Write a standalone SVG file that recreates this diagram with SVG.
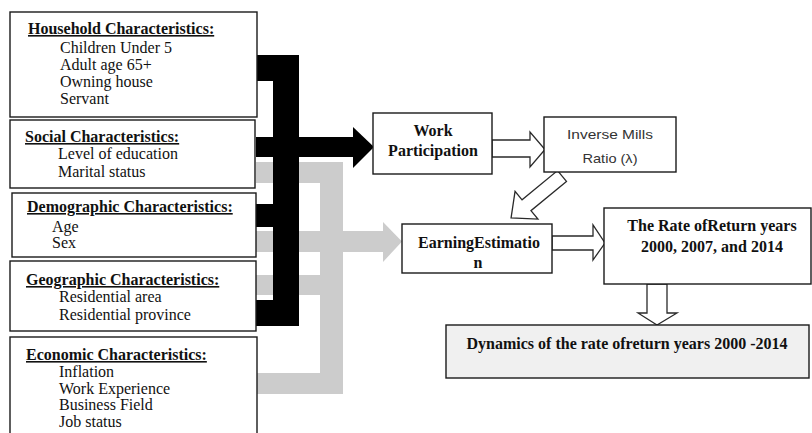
<svg xmlns="http://www.w3.org/2000/svg" width="812" height="433" viewBox="0 0 812 433">
  <style>
    .box { fill: #ffffff; stroke: #1a1a1a; stroke-width: 1.4; }
    .box-shade { fill: #f0f0f0; stroke: #1a1a1a; stroke-width: 1.4; }
    .hollow { fill: #ffffff; stroke: #2a2a2a; stroke-width: 1.3; stroke-linejoin: miter; }
    .bus-black { fill: #000000; }
    .bus-gray { fill: #cccccc; }
    .head { font-family: "Liberation Serif", "Times New Roman", serif; font-size: 16px; font-weight: bold; text-decoration: underline; fill: #111111; }
    .item { font-family: "Liberation Serif", "Times New Roman", serif; font-size: 16px; fill: #111111; }
    .title { font-family: "Liberation Serif", "Times New Roman", serif; font-size: 16px; font-weight: bold; fill: #111111; text-anchor: middle; }
    .sans { font-family: "Liberation Sans", Arial, sans-serif; font-size: 13px; fill: #333333; text-anchor: middle; }
  </style>

  <!-- Connectors: gray bus (earnings inputs) and black bus (participation inputs) -->
  <g id="connectors">
    <g id="gray-bus">
      <rect class="bus-gray" x="256" y="162" width="87" height="21"/>
      <rect class="bus-gray" x="320" y="162" width="23" height="232"/>
      <rect class="bus-gray" x="256" y="231" width="127" height="21"/>
      <polygon class="bus-gray" points="383,222 402,241.5 383,262"/>
      <rect class="bus-gray" x="256" y="275" width="64" height="20"/>
      <rect class="bus-gray" x="256" y="373" width="87" height="21"/>
    </g>
    <g id="black-bus">
      <rect class="bus-black" x="256" y="55" width="43" height="26"/>
      <rect class="bus-black" x="273" y="55" width="26" height="271"/>
      <rect class="bus-black" x="256" y="137" width="97" height="20"/>
      <polygon class="bus-black" points="353,127 374,147 353,168"/>
      <rect class="bus-black" x="256" y="204" width="43" height="23"/>
      <rect class="bus-black" x="256" y="300" width="43" height="26"/>
    </g>
    <!-- block arrows between the estimation steps -->
    <polygon class="hollow" points="492,140 530,140 530,132 545,149.5 530,167 530,157 492,157"/>
    <polygon class="hollow" transform="translate(562,176) rotate(140.5)" points="0,-7 46,-7 46,-18 66,0 46,18 46,7 0,7"/>
    <polygon class="hollow" points="552,236 593,236 593,225 605,243 593,260 593,250 552,250"/>
    <polygon class="hollow" points="647,284 667,284 667,313 677,313 657,325 638,313 647,313"/>
  </g>

  <!-- Input characteristic groups -->
  <g id="household">
    <rect class="box" x="10" y="12" width="247" height="105"/>
    <text class="head" x="28" y="34">Household Characteristics:</text>
    <text class="item" x="60" y="53">Children Under 5</text>
    <text class="item" x="60" y="70">Adult age 65+</text>
    <text class="item" x="60" y="87">Owning house</text>
    <text class="item" x="60" y="104">Servant</text>
  </g>

  <g id="social">
    <rect class="box" x="10" y="120" width="245" height="68"/>
    <text class="head" x="25" y="142">Social Characteristics:</text>
    <text class="item" x="58" y="159">Level of education</text>
    <text class="item" x="58" y="177">Marital status</text>
  </g>

  <g id="demographic">
    <rect class="box" x="12" y="193" width="244" height="64"/>
    <text class="head" x="27" y="212">Demographic Characteristics:</text>
    <text class="item" x="52" y="232">Age</text>
    <text class="item" x="52" y="248">Sex</text>
  </g>

  <g id="geographic">
    <rect class="box" x="10" y="261" width="246" height="70"/>
    <text class="head" x="26" y="285">Geographic Characteristics:</text>
    <text class="item" x="59" y="302">Residential area</text>
    <text class="item" x="59" y="320">Residential province</text>
  </g>

  <g id="economic">
    <rect class="box" x="10" y="337" width="247" height="110"/>
    <text class="head" x="26" y="360">Economic Characteristics:</text>
    <text class="item" x="59" y="377">Inflation</text>
    <text class="item" x="59" y="394">Work Experience</text>
    <text class="item" x="59" y="410">Business Field</text>
    <text class="item" x="59" y="427">Job status</text>
  </g>

  <!-- Estimation chain -->
  <g id="work-participation">
    <rect class="box" x="373" y="113" width="119" height="61"/>
    <text class="title" x="433" y="136">Work</text>
    <text class="title" x="433" y="156">Participation</text>
  </g>

  <g id="inverse-mills">
    <rect class="box" x="544" y="117" width="132" height="55"/>
    <text class="sans" x="610" y="139" textLength="86" lengthAdjust="spacingAndGlyphs">Inverse Mills</text>
    <text class="sans" x="610" y="163" textLength="55" lengthAdjust="spacingAndGlyphs">Ratio (λ)</text>
  </g>

  <g id="earning-estimation">
    <rect class="box" x="402" y="224" width="150" height="49"/>
    <text class="title" x="479" y="248">EarningEstimatio</text>
    <text class="title" x="478" y="268">n</text>
  </g>

  <g id="rate-of-return">
    <rect class="box" x="604" y="208" width="207" height="76"/>
    <text class="title" x="712" y="231">The Rate ofReturn years</text>
    <text class="title" x="712" y="252">2000, 2007, and 2014</text>
  </g>

  <g id="dynamics">
    <rect class="box-shade" x="446" y="325" width="363" height="53"/>
    <text class="title" x="627" y="349">Dynamics of the rate ofreturn years 2000 -2014</text>
  </g>
</svg>
